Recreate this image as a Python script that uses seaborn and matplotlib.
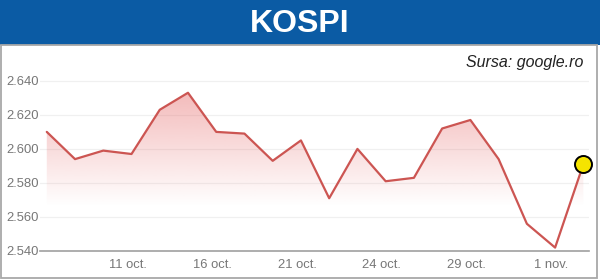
import numpy as np
import pandas as pd
import matplotlib
matplotlib.use("Agg")
import matplotlib.pyplot as plt
import seaborn as sns
from matplotlib.patches import Rectangle
from matplotlib.ticker import FuncFormatter

# ---- data ----
dates = ["7 oct.", "8 oct.", "10 oct.", "11 oct.", "14 oct.", "15 oct.", "16 oct.",
         "17 oct.", "18 oct.", "21 oct.", "22 oct.", "23 oct.", "24 oct.", "25 oct.",
         "28 oct.", "29 oct.", "30 oct.", "31 oct.", "1 nov.", "4 nov."]
values = [2610, 2594, 2599, 2597, 2623, 2633, 2610, 2609, 2593, 2605,
          2571, 2600, 2581, 2583, 2612, 2617, 2594, 2556, 2542, 2591]
tick_labels = ["11 oct.", "16 oct.", "21 oct.", "24 oct.", "29 oct.", "1 nov."]
y_ticks = [2540, 2560, 2580, 2600, 2620, 2640]
title = "KOSPI"
source = "Sursa: google.ro"

sns.set_theme(style="white")
plt.rcParams["font.family"] = ["Liberation Sans", "DejaVu Sans"]

W, H = 600, 279
fig = plt.figure(figsize=(W / 100, H / 100), dpi=100)
fig.patch.set_facecolor("white")

# banner
fig.patches.append(Rectangle((0, (H - 45) / H), 1, 45 / H, transform=fig.transFigure,
                             facecolor="#0b5ba4", edgecolor="none", zorder=0))
# gray frame
fig.patches.append(Rectangle((1 / W, 1.5 / H), 596 / W, (H - 45 - 1.5) / H,
                             transform=fig.transFigure, facecolor="none",
                             edgecolor="#a8a8a8", linewidth=1.3, zorder=0))
fig.text(0.5, (H - 24) / H, title, ha="center", va="center", color="white",
         fontsize=23, fontweight="bold")
fig.text(583 / W, (H - 63) / H, source, ha="right", va="center", color="#222222",
         fontsize=11.5, style="italic")

ax = fig.add_axes([40 / W, (H - 251) / H, 549 / W, 171 / H])
df = pd.DataFrame({"idx": np.arange(len(values)), "value": values, "date": dates})

xlim = (-0.24, len(values) - 1 + 0.2)
ylim = (2540, 2640.5)
ax.set_xlim(*xlim)
ax.set_ylim(*ylim)

# gradient fill under the line
line_color = "#cc5552"
poly = ax.fill_between(df["idx"], df["value"], 2540, color="none", lw=0)
rgba = np.zeros((256, 1, 4))
rgba[..., 0] = 0.90
rgba[..., 1] = 0.40
rgba[..., 2] = 0.40
t = np.linspace(2640, 2540, 256)
rgba[:, 0, 3] = np.clip((t - 2566) / (2638 - 2566), 0, 1) * 0.48
im = ax.imshow(rgba, extent=[xlim[0], xlim[1], 2540, 2640], aspect="auto",
               origin="upper", zorder=1)
im.set_clip_path(poly.get_paths()[0], transform=ax.transData)

sns.lineplot(data=df, x="idx", y="value", ax=ax, color=line_color, linewidth=1.6, zorder=3)
last = df.iloc[[-1]]
sns.scatterplot(data=last, x="idx", y="value", ax=ax, s=150, color="#f5e400",
                edgecolor="black", linewidth=1.4, zorder=6, clip_on=False)
ax.set_xlim(*xlim)
ax.set_ylim(*ylim)

# axes styling
for s in ["top", "right", "left"]:
    ax.spines[s].set_visible(False)
ax.spines["bottom"].set_color("#a0a0a0")
ax.spines["bottom"].set_linewidth(1.2)
ax.spines["bottom"].set_zorder(5)

pos = [dates.index(lbl) - 0.14 for lbl in tick_labels]
ax.set_xticks(pos)
ax.set_xticklabels(tick_labels)
ax.set_yticks(y_ticks)
ax.yaxis.set_major_formatter(FuncFormatter(lambda v, p: f"{v:,.0f}".replace(",", ".")))
ax.tick_params(axis="x", length=4, width=1, color="#a0a0a0", direction="out",
               pad=2, labelcolor="#777777", labelsize=9.4)
ax.tick_params(axis="y", length=0, pad=1, labelcolor="#777777", labelsize=9.4)
ax.grid(axis="y", color="#f0f0f0", linewidth=0.9)
ax.grid(axis="x", visible=False)
ax.set_xlabel("")
ax.set_ylabel("")
ax.set_facecolor("none")

fig.savefig("out.png", dpi=100)
